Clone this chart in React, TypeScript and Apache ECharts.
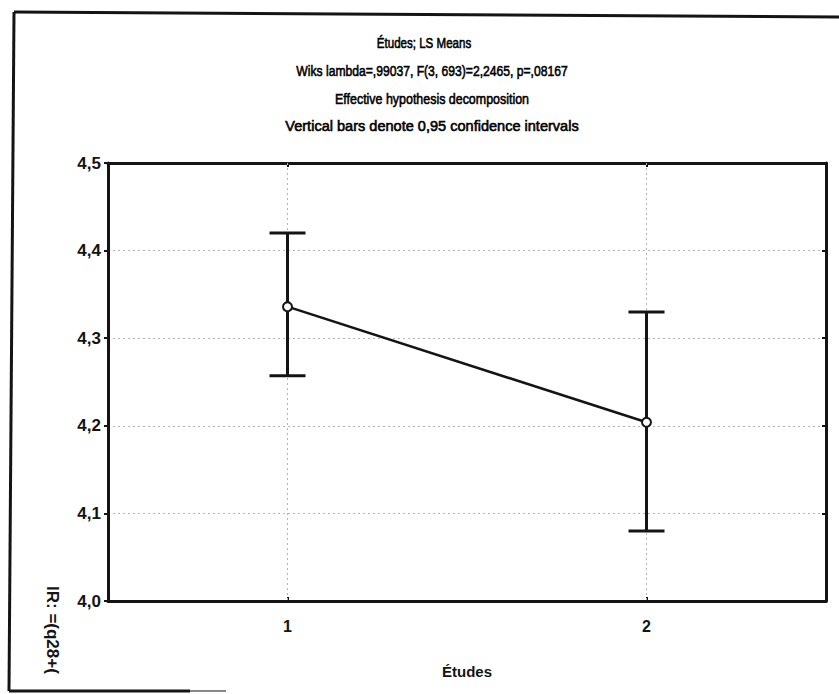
import React, { useEffect, useRef } from "react";
import * as echarts from "echarts";

// LS means per education level with 0.95 confidence limits
const categories = ["1", "2"];
const means = [4.336, 4.204];
const lowerCI = [4.257, 4.08];
const upperCI = [4.42, 4.33];

const titleLines = [
  "Études; LS Means",
  "Wiks lambda=,99037, F(3, 693)=2,2465, p=,08167",
  "Effective hypothesis decomposition",
  "Vertical bars denote 0,95 confidence intervals",
];
// horizontal squeeze of each title line (the original face is condensed)
const titleScale = [0.77, 0.81, 0.83, 0.97];
const titleX = [424, 432, 432, 432];
const titleY = [43, 71, 99, 126];

const yMin = 4.0;
const yMax = 4.5;
const yStep = 0.1;

const INK = "#141414";
const GRID = "#b4b4b4";
const FONT = "'Liberation Sans', Arial, sans-serif";

export default function App() {
  const ref = useRef<HTMLDivElement>(null);

  useEffect(() => {
    if (!ref.current) return;
    const chart = echarts.init(ref.current, null, { renderer: "svg" });

    const option: any = {
      animation: false,
      backgroundColor: "#ffffff",
      grid: { left: 108, top: 163, right: 13, bottom: 93, containLabel: false },
      xAxis: [
        {
          type: "category",
          data: categories,
          position: "bottom",
          boundaryGap: true,
          axisLine: { show: true, lineStyle: { color: INK, width: 3 } },
          axisTick: { show: true, inside: true, alignWithLabel: true, length: 4, lineStyle: { color: INK, width: 2 } },
          axisLabel: { margin: 17, fontSize: 16, fontWeight: "bold", color: INK, fontFamily: FONT },
          splitLine: { show: false },
          name: "Études",
          nameLocation: "middle",
          nameGap: 63,
          nameTextStyle: { fontSize: 15, fontWeight: "bold", color: INK, fontFamily: FONT },
        },
        {
          type: "category",
          data: categories,
          position: "top",
          boundaryGap: true,
          axisLine: { show: true, lineStyle: { color: INK, width: 3 } },
          axisTick: { show: true, inside: true, alignWithLabel: true, length: 4, lineStyle: { color: INK, width: 2 } },
          axisLabel: { show: false },
          splitLine: { show: false },
        },
      ],
      yAxis: [
        {
          type: "value",
          min: yMin,
          max: yMax,
          interval: yStep,
          position: "left",
          axisLine: { show: true, lineStyle: { color: INK, width: 3 } },
          axisTick: { show: true, inside: false, length: 4, lineStyle: { color: INK, width: 2 } },
          axisLabel: {
            margin: 7,
            fontSize: 17,
            fontWeight: "bold",
            color: INK,
            fontFamily: FONT,
            formatter: (v: number) => v.toFixed(1).replace(".", ","),
          },
          splitLine: { show: true, lineStyle: { color: GRID, width: 1, type: [2, 3] } },
        },
        {
          type: "value",
          min: yMin,
          max: yMax,
          interval: yStep,
          position: "right",
          axisLine: { show: true, lineStyle: { color: INK, width: 3 } },
          axisTick: { show: true, inside: true, length: 4, lineStyle: { color: INK, width: 2 } },
          axisLabel: { show: false },
          splitLine: { show: false },
        },
      ],
      series: [
        {
          // dotted reference line through each category, then the CI bar on top
          type: "custom",
          z: 3,
          silent: true,
          data: categories.map((_, i) => [i, lowerCI[i], upperCI[i]]),
          renderItem: (_params: any, api: any) => {
            const idx = api.value(0);
            const lo = api.coord([idx, api.value(1)]);
            const hi = api.coord([idx, api.value(2)]);
            const top = api.coord([idx, yMax]);
            const bottom = api.coord([idx, yMin]);
            const half = 18;
            const st = { stroke: INK, lineWidth: 3 };
            return {
              type: "group",
              children: [
                {
                  type: "line",
                  shape: { x1: top[0], y1: top[1], x2: bottom[0], y2: bottom[1] },
                  style: { stroke: GRID, lineWidth: 1, lineDash: [2, 3] },
                },
                { type: "line", shape: { x1: lo[0], y1: lo[1], x2: hi[0], y2: hi[1] }, style: st },
                { type: "line", shape: { x1: hi[0] - half, y1: hi[1], x2: hi[0] + half, y2: hi[1] }, style: st },
                { type: "line", shape: { x1: lo[0] - half, y1: lo[1], x2: lo[0] + half, y2: lo[1] }, style: st },
              ],
            };
          },
        },
        {
          type: "line",
          z: 5,
          data: means,
          symbol: "circle",
          symbolSize: 9,
          showSymbol: true,
          lineStyle: { color: INK, width: 2.5 },
          itemStyle: { color: "#ffffff", borderColor: INK, borderWidth: 2 },
        },
      ],
      graphic: [
        ...titleLines.map((t, i) => ({
          type: "text",
          x: titleX[i],
          y: titleY[i],
          scaleX: titleScale[i],
          style: {
            text: t,
            fill: "#000000",
            stroke: "#000000",
            lineWidth: 0.6,
            font: `15px ${FONT}`,
            textAlign: "center",
            textVerticalAlign: "middle",
          },
        })),
        {
          type: "text",
          x: 52,
          y: 586,
          rotation: -Math.PI / 2,
          style: {
            text: "IR: =(q28+(",
            fill: INK,
            font: `bold 17px ${FONT}`,
            textAlign: "left",
            textVerticalAlign: "middle",
          },
        },
        {
          type: "polyline",
          shape: { points: [[14, 12], [839, 17]] },
          style: { stroke: INK, lineWidth: 3, fill: null },
        },
        {
          type: "polyline",
          shape: { points: [[14, 12], [9, 691]] },
          style: { stroke: INK, lineWidth: 3, fill: null },
        },
        {
          type: "polyline",
          shape: { points: [[9, 691], [190, 691]] },
          style: { stroke: INK, lineWidth: 3, fill: null },
        },
        {
          type: "polyline",
          shape: { points: [[190, 691], [226, 691]] },
          style: { stroke: "#888888", lineWidth: 2, fill: null },
        },
      ],
    };

    chart.setOption(option);
    return () => chart.dispose();
  }, []);

  return (
    <div
      ref={ref}
      style={{ position: "fixed", left: 0, top: 0, width: 839, height: 694, background: "#fff" }}
    />
  );
}
